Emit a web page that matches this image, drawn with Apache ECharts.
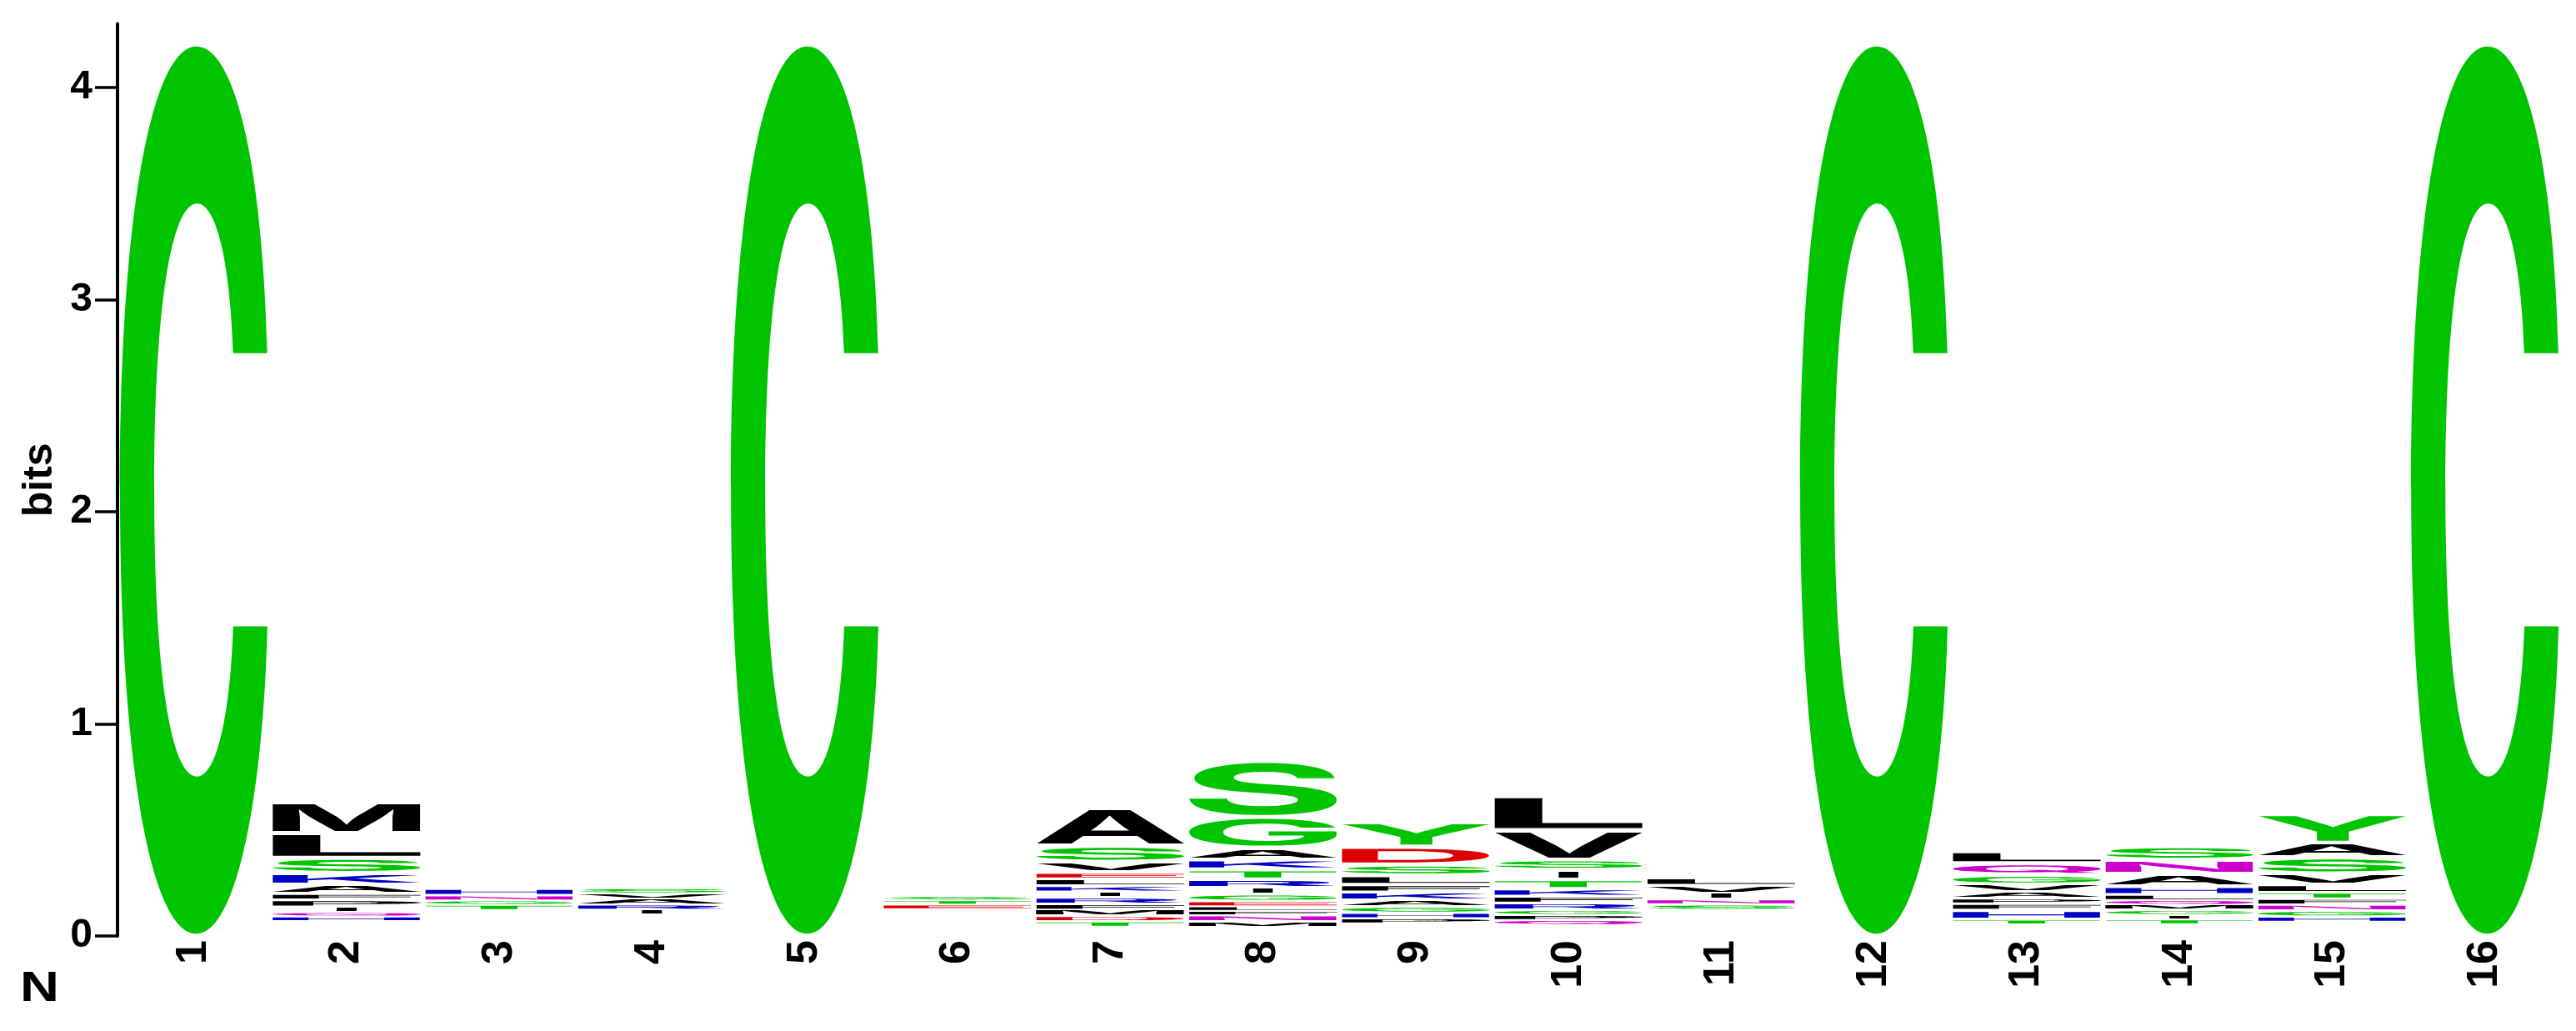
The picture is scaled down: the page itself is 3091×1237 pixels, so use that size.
<!DOCTYPE html>
<html>
<head>
<meta charset="utf-8">
<script src="https://cdn.jsdelivr.net/npm/echarts@6/dist/echarts.min.js"></script>
<style>
html, body { margin: 0; padding: 0; background: #fff; }
#container { width: 3091px; height: 1237px; }
</style>
</head>
<body>
<div id="container"></div>
<script>
// positions along the sequence
var positions = ['1','2','3','4','5','6','7','8','9','10','11','12','13','14','15','16'];

// bits taken by letters too small to see, at the bottom of each stack
var floorBits = [0, 0.07, 0.122, 0.102, 0, 0.126, 0.043, 0.043, 0.059, 0.051, 0.122, 0, 0.055, 0.055, 0.067, 0];

// letter stacks, bottom to top: [letter, bits]
var col1  = [['C', 4.19]];
var col2  = [['H',0.022],['Q',0.02],['I',0.024],['P',0.035],['F',0.028],['A',0.043],['K',0.055],['S',0.071],['L',0.118],['M',0.145]];
var col3  = [['T',0.025],['G',0.02],['N',0.025],['H',0.031]];
var col4  = [['I',0.022],['R',0.024],['A',0.028],['V',0.024],['S',0.026]];
var col5  = [['C', 4.19]];
var col6  = [['E',0.022],['T',0.02],['S',0.02]];
var col7  = [['T',0.026],['D',0.026],['M',0.028],['F',0.028],['R',0.031],['I',0.026],['K',0.029],['L',0.033],['E',0.029],['V',0.051],['S',0.075],['A',0.177]];
var col8  = [['M',0.026],['N',0.029],['F',0.02],['L',0.022],['E',0.024],['G',0.033],['I',0.031],['R',0.039],['T',0.047],['K',0.047],['A',0.055],['G',0.145],['S',0.263]];
var col9  = [['P',0.024],['H',0.026],['G',0.029],['A',0.031],['K',0.039],['F',0.033],['L',0.045],['S',0.051],['D',0.084],['Y',0.116]];
var col10 = [['Q',0.024],['P',0.024],['G',0.024],['R',0.033],['F',0.031],['K',0.035],['T',0.045],['I',0.045],['S',0.049],['V',0.138],['L',0.161]];
var col11 = [['S',0.027],['N',0.024],['I',0.029],['V',0.037],['L',0.035]];
var col12 = [['C', 4.19]];
var col13 = [['T',0.022],['H',0.045],['F',0.031],['P',0.024],['A',0.031],['V',0.035],['G',0.045],['Q',0.055],['L',0.057]];
var col14 = [['T',0.024],['I',0.02],['G',0.024],['M',0.024],['Q',0.022],['L',0.026],['H',0.039],['A',0.059],['N',0.067],['S',0.063]];
var col15 = [['H',0.024],['G',0.029],['N',0.028],['F',0.028],['T',0.029],['L',0.037],['V',0.053],['S',0.075],['A',0.069],['Y',0.136]];
var col16 = [['C', 4.19]];

var stacks = [col1,col2,col3,col4,col5,col6,col7,col8,col9,col10,col11,col12,col13,col14,col15,col16];

var yTicks = [0, 1, 2, 3, 4];

function letterColor(ch) {
    if ('GSTYC'.indexOf(ch) >= 0) return '#00C400';
    if ('NQ'.indexOf(ch) >= 0) return '#CC00CC';
    if ('KRH'.indexOf(ch) >= 0) return '#0000C0';
    if ('DE'.indexOf(ch) >= 0) return '#DD0000';
    return '#000000';
}

// measure glyph ink boxes so each letter can be stretched to its slot
var GLYPH_FAMILY = 'Inter';
var GLYPH_PX = 200;
var mctx = document.createElement('canvas').getContext('2d');
mctx.font = 'bold ' + GLYPH_PX + 'px ' + GLYPH_FAMILY;
mctx.textAlign = 'center';
mctx.textBaseline = 'middle';
var boxCache = {};
function glyphBox(ch) {
    if (!boxCache[ch]) {
        var m = mctx.measureText(ch);
        boxCache[ch] = {
            l: m.actualBoundingBoxLeft, r: m.actualBoundingBoxRight,
            a: m.actualBoundingBoxAscent, d: m.actualBoundingBoxDescent
        };
    }
    return boxCache[ch];
}

var marks = [];
stacks.forEach(function (col, i) {
    var y = floorBits[i];
    col.forEach(function (item) {
        marks.push({col: i, ch: item[0], y0: y, y1: y + item[1]});
        y += item[1];
    });
});

function renderLetter(params, api) {
    var m = marks[params.dataIndex];
    var bottom = api.coord([m.col, m.y0]);
    var top = api.coord([m.col, m.y1]);
    var band = api.size([1, 0])[0];
    var h = bottom[1] - top[1];
    var pad = Math.min(2.5, h * 0.2);
    var yTop = top[1] + pad;
    var gh = h - 2 * pad;
    var w = m.ch === 'I' ? band * 0.13 : band * 0.97;
    var x0 = bottom[0] - w / 2;
    var b = glyphBox(m.ch);
    var sx = w / (b.l + b.r);
    var sy = gh / (b.a + b.d);
    return {
        type: 'text',
        x: x0 + sx * b.l,
        y: yTop + sy * b.a,
        scaleX: sx,
        scaleY: sy,
        style: {
            text: m.ch,
            fontSize: GLYPH_PX,
            fontWeight: 'bold',
            fontFamily: GLYPH_FAMILY,
            fill: letterColor(m.ch),
            align: 'center',
            verticalAlign: 'middle'
        }
    };
}

var labelFont = {fontFamily: 'Liberation Sans', fontWeight: 'bold', color: '#000', fontSize: 48};

var option = {
    animation: false,
    backgroundColor: '#fff',
    grid: {left: 141, right: 17.5, top: 28.6, bottom: 114},
    xAxis: {
        type: 'category',
        data: positions,
        axisLine: {show: false},
        axisTick: {show: false},
        axisLabel: Object.assign({rotate: 90, margin: 5}, labelFont, {fontSize: 52}),
        splitLine: {show: false}
    },
    yAxis: {
        type: 'value',
        min: 0,
        max: 4.3,
        interval: 1,
        name: 'bits',
        nameLocation: 'middle',
        nameGap: 60,
        nameTextStyle: Object.assign({}, labelFont, {fontSize: 50}),
        axisLine: {show: true, lineStyle: {color: '#000', width: 4}},
        axisTick: {show: true, length: 27, customValues: yTicks, lineStyle: {color: '#000', width: 3.5}},
        axisLabel: Object.assign({margin: 30, customValues: yTicks}, labelFont),
        splitLine: {show: false}
    },
    graphic: [{
        type: 'text',
        left: 24,
        top: 1162,
        scaleX: 1.3,
        style: {text: 'N', fontFamily: 'Liberation Sans', fontWeight: 'bold', fontSize: 50, fill: '#000'}
    }],
    series: [{
        type: 'custom',
        silent: true,
        clip: false,
        renderItem: renderLetter,
        data: marks.map(function (m) { return [m.col, m.y0, m.y1]; })
    }]
};

var myChart = echarts.init(document.getElementById('container'));
myChart.setOption(option);
</script>
</body>
</html>
